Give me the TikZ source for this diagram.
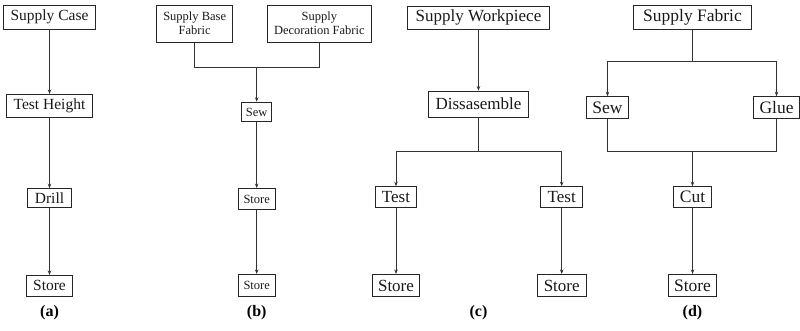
\documentclass[tikz,border=0pt]{standalone}
\usepackage{fontspec}
\setmainfont{Liberation Serif}
\usetikzlibrary{arrows.meta}
\begin{document}
\begin{tikzpicture}[x=1pt,y=-1pt,
  box/.style={draw=black!85,line width=0.8pt,inner sep=0pt,align=center,text=black!90},
  fa/.style={font=\fontsize{15.5}{17}\selectfont},
  fb/.style={font=\fontsize{12.5}{14}\selectfont},
  fc/.style={font=\fontsize{17}{19}\selectfont},
  fd/.style={font=\fontsize{17.5}{19}\selectfont},
  lab/.style={font=\fontsize{16}{18}\selectfont\bfseries},
  con/.style={draw=black!80,line width=0.8pt},
  arr/.style={con,-{Stealth[length=4.5pt,width=3.5pt]}}]
\useasboundingbox (0,0) rectangle (800,331);
% (a)
\node[box,fa,minimum width=92pt,minimum height=24pt] (a1) at (49.5,17) {Supply Case};
\node[box,fa,minimum width=86pt,minimum height=23.3pt] (a2) at (49.5,106) {Test Height};
\node[box,fa,minimum width=43.6pt,minimum height=18.7pt] (a3) at (49.5,198) {Drill};
\node[box,fa,minimum width=45.6pt,minimum height=20.7pt] (a4) at (49.5,285.7) {Store};
\node[lab] (la) at (49.5,313) {(a)};
\draw[arr] (a1) -- (a2);
\draw[arr] (a2) -- (a3);
\draw[arr] (a3) -- (a4);
% (b)
\node[box,fb,minimum width=76pt,minimum height=37.3pt] (b1) at (194.7,23.7) {Supply Base\\Fabric};
\node[box,fb,minimum width=104pt,minimum height=37.3pt] (b2) at (319.3,23.7) {Supply\\Decoration Fabric};
\node[box,fb,minimum width=30pt,minimum height=19.7pt] (b3) at (256.7,112) {Sew};
\node[box,fb,minimum width=37.3pt,minimum height=21pt] (b4) at (256.7,199) {Store};
\node[box,fb,minimum width=37.3pt,minimum height=22.3pt] (b5) at (256.7,285.5) {Store};
\node[lab] (lb) at (256.7,313) {(b)};
\coordinate (bj) at (256.7,67.7);
\draw[con] (b1.south) |- (bj) -| (b2.south);
\draw[arr] (bj) -- (b3.north);
\draw[arr] (b3) -- (b4);
\draw[arr] (b4) -- (b5);
% (c)
\node[box,fc,minimum width=141.6pt,minimum height=23pt] (c1) at (478.5,17.5) {Supply Workpiece};
\node[box,fc,minimum width=100pt,minimum height=26pt] (c2) at (478.5,104) {Dissasemble};
\node[box,fc,minimum width=41.7pt,minimum height=20.7pt] (c3) at (396,197) {Test};
\node[box,fc,minimum width=42pt,minimum height=20.7pt] (c4) at (561.7,197) {Test};
\node[box,fc,minimum width=47.7pt,minimum height=22.3pt] (c5) at (396,285.5) {Store};
\node[box,fc,minimum width=48.7pt,minimum height=22.3pt] (c6) at (561.7,285.5) {Store};
\node[lab] (lc) at (478.5,313) {(c)};
\coordinate (cj) at (478.5,151.7);
\draw[arr] (c1) -- (c2);
\draw[con] (c2.south) -- (cj);
\draw[arr] (cj) -| (c3.north);
\draw[arr] (cj) -| (c4.north);
\draw[arr] (c3) -- (c5);
\draw[arr] (c4) -- (c6);
% (d)
\node[box,fd,minimum width=117.6pt,minimum height=24pt] (d1) at (692.5,17) {Supply Fabric};
\node[box,fd,minimum width=41.5pt,minimum height=21.6pt] (d2) at (607.5,107.5) {Sew};
\node[box,fd,minimum width=46pt,minimum height=21.6pt] (d3) at (776.5,107.5) {Glue};
\node[box,fd,minimum width=38.4pt,minimum height=20.7pt] (d4) at (692.5,197) {Cut};
\node[box,fd,minimum width=48.3pt,minimum height=22.3pt] (d5) at (692.5,285.5) {Store};
\node[lab] (ld) at (692.5,313) {(d)};
\coordinate (dj1) at (692.5,61.7);
\coordinate (dj2) at (692.5,151.7);
\draw[con] (d1.south) -- (dj1);
\draw[arr] (dj1) -| (d2.north);
\draw[arr] (dj1) -| (d3.north);
\draw[con] (d2.south) |- (dj2) -| (d3.south);
\draw[arr] (dj2) -- (d4.north);
\draw[arr] (d4) -- (d5);
\end{tikzpicture}
\end{document}
